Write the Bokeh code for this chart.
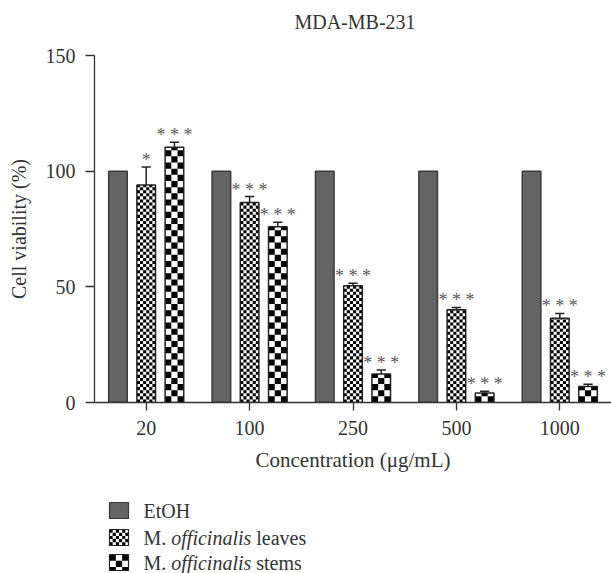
import numpy as np
from bokeh.plotting import figure
from bokeh.models import Range1d, FixedTicker
from bokeh.layouts import column
from bokeh.embed import file_html
from bokeh.resources import INLINE
from bokeh.core.properties import value

# ---------------- data ----------------
concentrations = ["20", "100", "250", "500", "1000"]
etoh = [100, 100, 100, 100, 100]
leaves = [94.0, 86.5, 50.5, 40.1, 36.4]
leaves_err = [7.8, 2.5, 1.0, 1.0, 2.1]
stems = [110.3, 76.0, 12.3, 4.1, 6.9]
stems_err = [2.2, 1.9, 1.7, 0.8, 1.0]
leaves_sig = ["*", "***", "***", "***", "***"]
stems_sig = ["***", "***", "***", "***", "***"]
y_ticks = [0, 50, 100, 150]
title_text = "MDA-MB-231"
legend_labels = ["EtOH", "M. officinalis leaves", "M. officinalis stems"]

# ---------------- style / layout ----------------
FONT = "Liberation Serif"
W, H = 611, 573
LEFT = 94
TITLE_H = 40
TOP_PAD, FRAME_H, MAIN_H = 15, 347, 440
LEG_TOP = TITLE_H + MAIN_H
BAR_W = 0.18
OFFSET = 0.273
AX_COL = "#333333"
TXT_COL = "#333333"
STAR_COL = "#5a5a5a"
ETOH_FILL = "#646464"


def blank_fig(height, y0, y1):
    f = figure(width=W, height=height, x_range=Range1d(LEFT, W), y_range=Range1d(y1, y0),
               output_backend="svg", toolbar_location=None, x_axis_type=None, y_axis_type=None,
               min_border_left=LEFT, min_border_right=0, min_border_top=0, min_border_bottom=0)
    f.outline_line_color = None
    f.xgrid.visible = False
    f.ygrid.visible = False
    return f


# ---------------- title strip (page-pixel coordinates) ----------------
tf = blank_fig(TITLE_H, 0, TITLE_H)
tf.text(x=[(LEFT + W) / 2 + 2], y=[21], text=[title_text], text_align="center",
        text_baseline="middle", text_font=value(FONT), text_font_size="20px", text_color=TXT_COL)

# ---------------- main chart ----------------
xc = np.arange(len(concentrations)) + 0.5
x_e = xc - OFFSET
x_l = xc
x_s = xc + OFFSET

p = figure(width=W, height=MAIN_H, x_range=Range1d(0, 5), y_range=Range1d(0, 150),
           output_backend="svg", toolbar_location=None,
           min_border_left=LEFT, min_border_right=0, min_border_top=TOP_PAD,
           min_border_bottom=MAIN_H - TOP_PAD - FRAME_H)
p.outline_line_color = None
p.xgrid.visible = False
p.ygrid.visible = False


def checker_cells(centers, heights, bar_w, ncols, cell_h):
    L, R, B, T = [], [], [], []
    cw = bar_w / ncols
    for c, h in zip(centers, heights):
        left0 = c - bar_w / 2
        nrows = int(np.ceil(h / cell_h))
        for r in range(nrows):
            b = r * cell_h
            t = min((r + 1) * cell_h, h)
            for k in range(ncols):
                if (r + k) % 2 == 0:
                    L.append(left0 + k * cw)
                    R.append(left0 + (k + 1) * cw)
                    B.append(b)
                    T.append(t)
    return dict(left=L, right=R, bottom=B, top=T)


# EtOH bars
p.vbar(x=x_e, top=etoh, width=BAR_W, bottom=0, fill_color=ETOH_FILL,
       line_color="#3a3a3a", line_width=1.5)

# leaves bars (fine checker)
p.vbar(x=x_l, top=leaves, width=BAR_W, bottom=0, fill_color="white", line_color=None)
p.quad(source=checker_cells(x_l, leaves, BAR_W, 6, 1.33), left="left", right="right",
       bottom="bottom", top="top", fill_color="black", line_color=None)
p.vbar(x=x_l, top=leaves, width=BAR_W, bottom=0, fill_color=None,
       line_color="#222222", line_width=1.5)

# stems bars (coarse checker)
p.vbar(x=x_s, top=stems, width=BAR_W, bottom=0, fill_color="white", line_color=None)
p.quad(source=checker_cells(x_s, stems, BAR_W, 3, 2.66), left="left", right="right",
       bottom="bottom", top="top", fill_color="black", line_color=None)
p.vbar(x=x_s, top=stems, width=BAR_W, bottom=0, fill_color=None,
       line_color="#222222", line_width=1.5)

# error bars (upper only)
CAP = 0.045
for xs, vals, errs in [(x_l, leaves, leaves_err), (x_s, stems, stems_err)]:
    tops = [v + e for v, e in zip(vals, errs)]
    p.segment(x0=xs, y0=vals, x1=xs, y1=tops, line_color="#222222", line_width=1.5)
    p.segment(x0=xs - CAP, y0=tops, x1=xs + CAP, y1=tops, line_color="#222222", line_width=1.5)

# significance stars
for xs, vals, errs, sig in [(x_l, leaves, leaves_err, leaves_sig), (x_s, stems, stems_err, stems_sig)]:
    tops = [v + e for v, e in zip(vals, errs)]
    txt = [" ".join(list(s)) for s in sig]
    p.text(x=xs, y=tops, text=txt, text_align="center", text_baseline="alphabetic",
           y_offset=-7, text_font=value(FONT), text_font_size="18px", text_color=STAR_COL)

# axes
p.xaxis.ticker = FixedTicker(ticks=list(xc))
p.xaxis.major_label_overrides = {float(x): lab for x, lab in zip(xc, concentrations)}
p.xaxis.minor_tick_line_color = None
p.xaxis.major_tick_in = 0
p.xaxis.major_tick_out = 8
p.xaxis.axis_label = "Concentration (\u03bcg/mL)"
p.yaxis.ticker = FixedTicker(ticks=y_ticks)
p.yaxis.minor_tick_line_color = None
p.yaxis.major_tick_in = 0
p.yaxis.major_tick_out = 9
p.yaxis.axis_label = "Cell viability (%)"
for ax in [p.xaxis[0], p.yaxis[0]]:
    ax.axis_line_color = AX_COL
    ax.axis_line_width = 1.3
    ax.major_tick_line_color = AX_COL
    ax.major_tick_line_width = 1.3
    ax.major_label_text_font = FONT
    ax.major_label_text_font_size = "20px"
    ax.major_label_text_color = TXT_COL
    ax.axis_label_text_font = FONT
    ax.axis_label_text_font_size = "20px"
    ax.axis_label_text_font_style = "normal"
    ax.axis_label_text_color = TXT_COL
p.xaxis.axis_label_text_font_size = "21px"
p.xaxis.major_label_standoff = 10
p.xaxis.axis_label_standoff = 10
p.yaxis.major_label_standoff = 10
p.yaxis.axis_label_standoff = 13

# ---------------- legend strip (page-pixel coordinates) ----------------
LH = H - LEG_TOP
lg = blank_fig(LH, LEG_TOP, H)

rows = [510, 537, 562]
SW_L, SW_R, SW_H = 109, 128, 16
TX = 143
FS = 20


def sw_cells(yc, ncols, cell):
    L, R, B, T = [], [], [], []
    top = yc - SW_H / 2
    cw = (SW_R - SW_L) / ncols
    nrows = int(np.ceil(SW_H / cell))
    for r in range(nrows):
        b = top + r * cell
        t = min(top + (r + 1) * cell, top + SW_H)
        for k in range(ncols):
            if (r + k) % 2 == 0:
                L.append(SW_L + k * cw); R.append(SW_L + (k + 1) * cw)
                B.append(b); T.append(t)
    return dict(left=L, right=R, bottom=B, top=T)


lg.quad(left=[SW_L], right=[SW_R], top=[rows[0] - SW_H / 2], bottom=[rows[0] + SW_H / 2],
        fill_color=ETOH_FILL, line_color="#3a3a3a", line_width=1.2)
lg.quad(source=sw_cells(rows[1], 6, 3.2), left="left", right="right", bottom="bottom", top="top",
        fill_color="black", line_color=None)
lg.quad(source=sw_cells(rows[2], 3, 6.3), left="left", right="right", bottom="bottom", top="top",
        fill_color="black", line_color=None)
for yc in rows[1:]:
    lg.quad(left=[SW_L], right=[SW_R], top=[yc - SW_H / 2], bottom=[yc + SW_H / 2],
            fill_color=None, line_color="#222222", line_width=1.2)

common = dict(text_baseline="middle", text_font=value(FONT), text_font_size=f"{FS}px",
              text_color=TXT_COL)
lg.text(x=[TX], y=[rows[0]], text=[legend_labels[0]], **common)
w_m = 1.389 * FS
w_off = 4.0 * FS
for yc, lab in zip(rows[1:], legend_labels[1:]):
    parts = lab.split(" ")
    lg.text(x=[TX], y=[yc], text=[parts[0]], **common)
    lg.text(x=[TX + w_m], y=[yc], text=[parts[1]], text_font_style="italic", **common)
    lg.text(x=[TX + w_m + w_off + 0.25 * FS], y=[yc], text=[parts[2]], **common)

layout = column(tf, p, lg, spacing=0)
open("out.html", "w").write(file_html(layout, INLINE))
